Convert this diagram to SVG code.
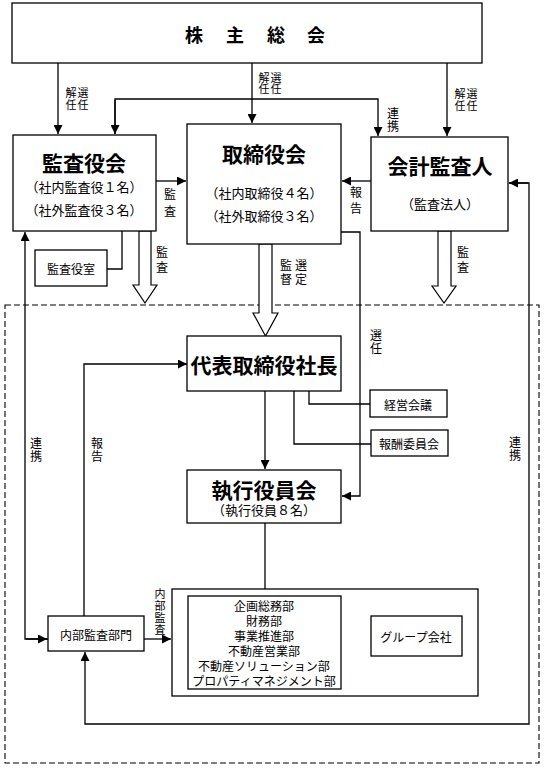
<svg xmlns="http://www.w3.org/2000/svg" width="548" height="774" viewBox="0 0 548 774">
<defs>
<style>
text{font-family:"Noto Sans CJK JP","Noto Sans CJK SC",sans-serif;fill:#000}
.tight{font-family:"Liberation Sans","Noto Sans CJK JP",sans-serif}
.box{fill:#fff;stroke:#000;stroke-width:1.3}
.ln{fill:none;stroke:#000;stroke-width:1.3}
.ha{fill:#fff;stroke:#000;stroke-width:1.2}
.t{font-size:21px;font-weight:bold;text-anchor:middle;dominant-baseline:central}
.s{font-size:13px;text-anchor:middle;dominant-baseline:central}
.b{font-size:12px;text-anchor:middle;dominant-baseline:central}
.v{writing-mode:vertical-rl;font-size:12px;text-anchor:start}
.v11{writing-mode:vertical-rl;font-size:11px;text-anchor:start}
.dash{fill:none;stroke:#000;stroke-width:1.1;stroke-dasharray:6 3}
</style>
<marker id="ar" viewBox="0 0 10 10" refX="10" refY="5" markerWidth="9" markerHeight="9" markerUnits="userSpaceOnUse" orient="auto">
<path d="M0,0 L10,5 L0,10 z" fill="#000"/>
</marker>
</defs>
<rect width="548" height="774" fill="#fff"/>

<rect class="dash" x="5" y="305" width="534" height="458"/>

<g id="connectors">
<line class="ln" x1="58" y1="63" x2="58" y2="134" marker-end="url(#ar)"/>
<line class="ln" x1="252" y1="63" x2="252" y2="123" marker-end="url(#ar)"/>
<line class="ln" x1="447" y1="63" x2="447" y2="136" marker-end="url(#ar)"/>
<polyline class="ln" points="115,134 115,99 378,99 378,136" marker-end="url(#ar)"/>
<line class="ln" x1="115" y1="100" x2="115" y2="134" marker-end="url(#ar)"/>
<line class="ln" x1="156" y1="181" x2="186" y2="181" marker-end="url(#ar)"/>
<line class="ln" x1="371" y1="181" x2="342" y2="181" marker-end="url(#ar)"/>
<polyline class="ln" points="122,231 122,269 107,269"/>
<polyline class="ln" points="341,232 360,232 360,496 342,496" marker-end="url(#ar)"/>
<polygon class="ha" points="139,231 151,231 151,285 157,285 145,303 133,285 139,285"/>
<polygon class="ha" points="259,244 272,244 272,313 278,313 265.5,336 253,313 259,313"/>
<polygon class="ha" points="438,231 451,231 451,286 456,286 444,303 432,286 438,286"/>
<polyline class="ln" points="48,639 25,639 25,232" marker-end="url(#ar)"/>
<line class="ln" x1="26" y1="639" x2="47" y2="639" marker-end="url(#ar)"/>
<polyline class="ln" points="84,616 84,364 187,364" marker-end="url(#ar)"/>
<polyline class="ln" points="509,183 529,183 529,724 85,724 85,652" marker-end="url(#ar)"/>
<line class="ln" x1="528" y1="183" x2="509" y2="183" marker-end="url(#ar)"/>
<line class="ln" x1="265" y1="391" x2="265" y2="469" marker-end="url(#ar)"/>
<polyline class="ln" points="309,391 309,404 370,404"/>
<polyline class="ln" points="294,391 294,444 371,444"/>
<line class="ln" x1="265" y1="523" x2="265" y2="596"/>
<line class="ln" x1="144" y1="639" x2="171" y2="639" marker-end="url(#ar)"/>
</g>

<g id="labels">
<text class="v11" x="83" y="87.5" letter-spacing="1">選任</text>
<text class="v11" x="71" y="87.5" letter-spacing="1">解任</text>
<text class="v11" x="276" y="72">選任</text>
<text class="v11" x="264" y="72">解任</text>
<text class="v11" x="472" y="88.5" letter-spacing="1">選任</text>
<text class="v11" x="460" y="88.5" letter-spacing="1">解任</text>
<text class="v" x="393" y="107" letter-spacing="1">連携</text>
<text class="v" x="170" y="188" letter-spacing="5">監査</text>
<text class="v" x="162" y="246" letter-spacing="3">監査</text>
<text class="v" x="356" y="186" letter-spacing="4">報告</text>
<text class="v" x="301" y="259" letter-spacing="2">選定</text>
<text class="v" x="286" y="259" letter-spacing="2">監督</text>
<text class="v" x="463" y="246" letter-spacing="3">監査</text>
<text class="v" x="376" y="329" letter-spacing="1">選任</text>
<text class="v" x="36" y="437" letter-spacing="1">連携</text>
<text class="v" x="97" y="437" letter-spacing="1">報告</text>
<text class="v" x="515" y="436" letter-spacing="1">連携</text>
<text class="v11" x="160" y="588.5" letter-spacing="1">内部監査</text>
</g>

<g id="kabunushi">
<rect class="box" x="12" y="3" width="470" height="60"/>
<text x="185 226 267 307" y="34" style="font-size:18px;font-weight:bold;dominant-baseline:central">株主総会</text>
</g>

<g id="kansayakukai">
<rect class="box" x="13" y="135" width="143" height="96"/>
<text class="t" x="84" y="162">監査役会</text>
<text class="s" x="84" y="186">（社内監査役１名）</text>
<text class="s" x="84" y="209">（社外監査役３名）</text>
</g>

<g id="torishimariyakukai">
<rect class="box" x="187" y="124" width="154" height="120"/>
<text class="t" x="264" y="153">取締役会</text>
<text class="s" x="264" y="192">（社内取締役４名）</text>
<text class="s" x="264" y="215">（社外取締役３名）</text>
</g>

<g id="kaikeikansanin">
<rect class="box" x="371" y="137" width="137" height="94"/>
<text class="t" x="440" y="165">会計監査人</text>
<text class="s" x="440" y="203">（監査法人）</text>
</g>

<g id="kansayakushitsu">
<rect class="box" x="35" y="250" width="72" height="36"/>
<text class="b" x="71" y="268">監査役室</text>
</g>

<g id="daihyo">
<rect class="box" x="187" y="336" width="154" height="55"/>
<text class="t" x="264" y="364">代表取締役社長</text>
</g>

<g id="keieikaigi">
<rect class="box" x="370" y="390" width="77" height="27"/>
<text class="b" x="408" y="404">経営会議</text>
</g>

<g id="hoshu">
<rect class="box" x="371" y="430" width="77" height="26"/>
<text class="b" x="409" y="443">報酬委員会</text>
</g>

<g id="shikko">
<rect class="box" x="187" y="470" width="154" height="53"/>
<text class="tight" x="264" y="498" text-anchor="middle" style="font-size:21px;font-weight:bold">執行役員会</text>
<text class="tight" x="264" y="515" text-anchor="middle" style="font-size:13px">（執行役員８名）</text>
</g>

<g id="naibukansa">
<rect class="box" x="48" y="616" width="96" height="35"/>
<text class="b" x="96" y="634">内部監査部門</text>
</g>

<g id="soshiki">
<rect class="box" x="172" y="589" width="306" height="107"/>
</g>

<g id="bumon">
<rect class="box" x="188" y="596" width="153" height="93"/>
<text class="tight" text-anchor="middle" style="font-size:12px"><tspan x="264" y="611">企画総務部</tspan><tspan x="264" dy="15">財務部</tspan><tspan x="264" dy="15">事業推進部</tspan><tspan x="264" dy="15">不動産営業部</tspan><tspan x="264" dy="15">不動産ソリューション部</tspan><tspan x="264" dy="15">プロパティマネジメント部</tspan></text>
</g>

<g id="group">
<rect class="box" x="371" y="616" width="91" height="40"/>
<text class="b" x="416" y="636">グループ会社</text>
</g>
</svg>
